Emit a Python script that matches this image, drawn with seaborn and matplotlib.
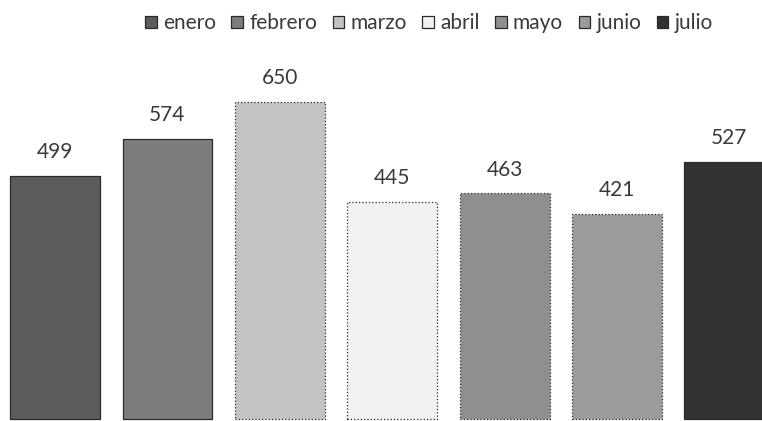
import pandas as pd
import matplotlib.pyplot as plt
import seaborn as sns

# values
months = ['enero', 'febrero', 'marzo', 'abril', 'mayo', 'junio', 'julio']
values = [499, 574, 650, 445, 463, 421, 527]
colors = ['#5c5c5e', '#7c7c80', '#c2c2c7', '#f1f1f4', '#8e8e92', '#9a9a9e', '#323234']

df = pd.DataFrame({'mes': months, 'valor': values})

sns.set_style('white')
plt.rcParams['font.family'] = ['Lato', 'DejaVu Sans']

fig = plt.figure(figsize=(7.62, 4.21), dpi=100)
ax = fig.add_axes([0, 0, 1, 1])

sns.barplot(data=df, x='mes', y='valor', hue='mes', palette=colors,
            width=0.8, ax=ax, edgecolor='#2a2a2a', linewidth=0.9,
            legend=True)

# lighter bars have a dotted outline in the scan
for bar, m in zip(ax.patches, months):
    if m in ('marzo', 'abril', 'mayo', 'junio'):
        bar.set_linestyle(':')

for cont in ax.containers:
    ax.bar_label(cont, padding=10, fontsize=15, color='#3a3a3a')

ax.set_xlim(-0.49, 6.29)
ax.set_ylim(-4, 860)
ax.set_axis_off()

# legend sits a bit right of centre in the scan
sns.move_legend(ax, 'center', bbox_to_anchor=(0.563, 0.945), ncol=7,
                frameon=False, title=None, fontsize=15,
                handlelength=0.55, handleheight=0.55,
                handletextpad=0.3, columnspacing=0.75, labelcolor='#3a3a3a')

plt.savefig('out.png', dpi=100)
